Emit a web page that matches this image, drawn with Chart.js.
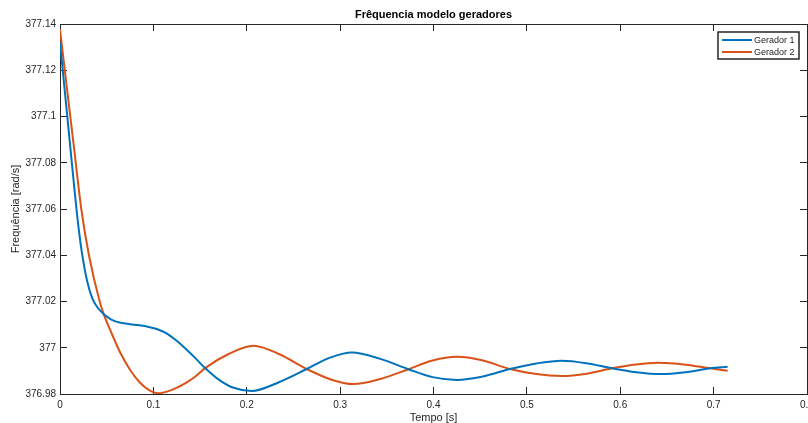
<!DOCTYPE html>
<html>
<head>
<meta charset="utf-8">
<script src="https://cdn.jsdelivr.net/npm/chart.js@4/dist/chart.umd.min.js"></script>
<style>
html,body{margin:0;padding:0;background:#fff;}
#wrap{position:relative;width:808px;height:423px;}
</style>
</head>
<body>
<div id="wrap"><canvas id="c" width="808" height="423"></canvas></div>
<script>
const chartTitle = 'Frêquencia modelo geradores';
const xTitle = 'Tempo [s]';
const yTitle = 'Frequência [rad/s]';
const seriesNames = ['Gerador 1', 'Gerador 2'];
const seriesColors = ['#0072BD', '#D95319'];

const time1 = [0, 0.005, 0.010, 0.0145, 0.019, 0.0235, 0.029, 0.0345, 0.040, 0.047, 0.055, 0.065, 0.075, 0.085, 0.095, 0.105, 0.115, 0.125, 0.134, 0.145, 0.1554, 0.17, 0.185, 0.2054, 0.235, 0.2643, 0.288, 0.3125, 0.343, 0.3732, 0.399, 0.425, 0.453, 0.482, 0.51, 0.5375, 0.564, 0.591, 0.617, 0.643, 0.67, 0.6964, 0.715];
const gen1 = [377.132, 377.1115, 377.091, 377.0725, 377.055, 377.041, 377.029, 377.0215, 377.0175, 377.0145, 377.0122, 377.0108, 377.0102, 377.0097, 377.0090, 377.0079, 377.006, 377.0030, 376.9998, 376.9955, 376.9912, 376.9862, 376.9828, 376.9813, 376.9852, 376.9908, 376.9955, 376.9979, 376.9952, 376.9907, 376.9873, 376.9861, 376.9876, 376.9908, 376.9932, 376.9944, 376.9933, 376.9911, 376.9894, 376.9886, 376.9894, 376.9911, 376.9918];

const time2 = [0, 0.005, 0.010, 0.015, 0.0228, 0.031, 0.0425, 0.0464, 0.055, 0.065, 0.075, 0.085, 0.095, 0.105, 0.12, 0.134, 0.145, 0.1554, 0.18, 0.2071, 0.235, 0.2643, 0.29, 0.3143, 0.343, 0.3732, 0.399, 0.425, 0.452, 0.482, 0.51, 0.5375, 0.564, 0.591, 0.617, 0.641, 0.67, 0.6964, 0.715];
const gen2 = [377.1377, 377.1205, 377.1035, 377.0865, 377.06, 377.04, 377.02, 377.015, 377.0065, 376.9975, 376.9905, 376.9852, 376.9818, 376.9803, 376.9818, 376.9846, 376.9876, 376.9912, 376.9972, 377.0009, 376.9972, 376.9908, 376.9863, 376.9843, 376.9865, 376.9907, 376.9945, 376.9961, 376.9946, 376.9908, 376.9886, 376.9878, 376.9888, 376.9911, 376.9928, 376.9935, 376.9927, 376.9911, 376.9901];

const xRange = [0, 0.8];
const xStep = 0.1;
const yRange = [376.98, 377.14];
const yStep = 0.02;

const FONT = "'Liberation Sans', Arial, Helvetica, sans-serif";
const AX = '#262626';

function pts(xs, ys){ return xs.map((x,i)=>({x:x, y:ys[i]})); }
function fmt(v){ return String(+(+v).toFixed(2)); }
function noPad(s){ s.paddingLeft = 0; s.paddingRight = 0; s.paddingTop = 0; s.paddingBottom = 0; }

const legendPlugin = {
  id: 'boxLegend',
  afterDraw(chart){
    const ctx = chart.ctx;
    const x0 = 718, y0 = 32, w = 81, h = 27;
    ctx.save();
    ctx.fillStyle = '#fff';
    ctx.fillRect(x0, y0, w, h);
    ctx.strokeStyle = AX;
    ctx.lineWidth = 1.5;
    ctx.strokeRect(x0, y0, w, h);
    ctx.font = '9px ' + FONT;
    ctx.textBaseline = 'middle';
    chart.data.datasets.forEach((ds, i) => {
      const yy = y0 + 8 + i * 12;
      ctx.strokeStyle = ds.borderColor;
      ctx.lineWidth = 2;
      ctx.beginPath();
      ctx.moveTo(x0 + 4, yy);
      ctx.lineTo(x0 + 34, yy);
      ctx.stroke();
      ctx.fillStyle = AX;
      ctx.fillText(ds.label, x0 + 36, yy + 0.5);
    });
    ctx.restore();
  }
};

const tickFont = {family: FONT, size: 10};
const hidden = {display: false};

new Chart(document.getElementById('c'), {
  type: 'line',
  data: {
    datasets: [
      {label: seriesNames[0], data: pts(time1, gen1), borderColor: seriesColors[0], backgroundColor: seriesColors[0], borderWidth: 2, pointRadius: 0, cubicInterpolationMode: 'monotone', fill: false, xAxisID: 'x', yAxisID: 'y'},
      {label: seriesNames[1], data: pts(time2, gen2), borderColor: seriesColors[1], backgroundColor: seriesColors[1], borderWidth: 2, pointRadius: 0, cubicInterpolationMode: 'monotone', fill: false, xAxisID: 'x', yAxisID: 'y'}
    ]
  },
  options: {
    responsive: false,
    animation: false,
    events: [],
    layout: {padding: {left: 0, right: 0, top: 0, bottom: 0}},
    plugins: {
      legend: hidden,
      tooltip: {enabled: false},
      title: {
        display: true, text: chartTitle, fullSize: false, color: '#000',
        font: {family: FONT, size: 11, weight: 'bold', lineHeight: 1.2},
        padding: {top: 8, bottom: 2.8}
      }
    },
    scales: {
      x: {
        type: 'linear', position: 'bottom', min: xRange[0], max: xRange[1],
        afterFit(s){ s.height = 29; noPad(s); },
        border: {display: true, color: AX, width: 1},
        grid: {drawOnChartArea: false, drawTicks: true, tickLength: -7, color: AX},
        ticks: {stepSize: xStep, color: AX, font: tickFont, padding: 12, maxRotation: 0, autoSkip: false, callback: v => fmt(v)},
        title: {display: true, text: xTitle, color: AX, font: {family: FONT, size: 11, lineHeight: 1}, padding: {top: 0, bottom: 0}}
      },
      xTop: {
        type: 'linear', position: 'top', min: xRange[0], max: xRange[1],
        afterFit(s){ s.height = 0; noPad(s); },
        border: {display: true, color: AX, width: 1},
        grid: {drawOnChartArea: false, drawTicks: true, tickLength: -7, color: AX},
        ticks: {stepSize: xStep, display: false}
      },
      y: {
        type: 'linear', position: 'left', min: yRange[0], max: yRange[1],
        afterFit(s){ s.width = 60; noPad(s); },
        border: {display: true, color: AX, width: 1},
        grid: {drawOnChartArea: false, drawTicks: true, tickLength: -7, color: AX},
        ticks: {stepSize: yStep, color: AX, font: tickFont, padding: 11, autoSkip: false, callback: v => fmt(v)},
        title: {display: true, text: yTitle, color: AX, font: {family: FONT, size: 11, lineHeight: 1}, padding: {top: 10, bottom: 0}}
      },
      yRight: {
        type: 'linear', position: 'right', min: yRange[0], max: yRange[1],
        afterFit(s){ s.width = 1; noPad(s); },
        border: {display: true, color: AX, width: 1},
        grid: {drawOnChartArea: false, drawTicks: true, tickLength: -7, color: AX},
        ticks: {stepSize: yStep, display: false}
      }
    }
  },
  plugins: [legendPlugin]
});
</script>
</body>
</html>
